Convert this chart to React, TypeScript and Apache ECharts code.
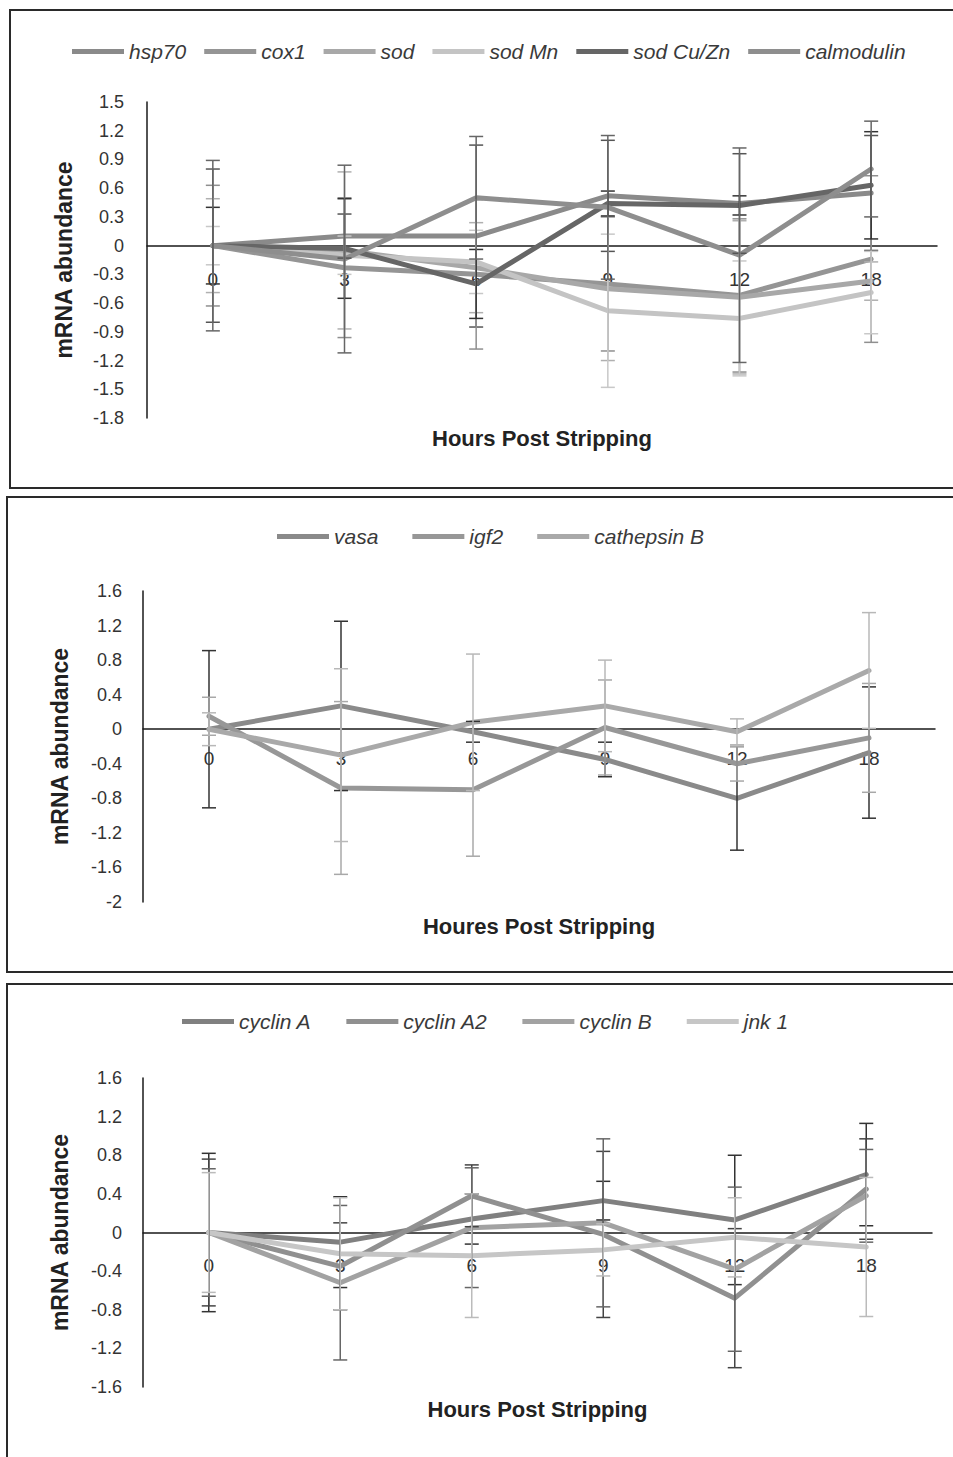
import React, { useEffect, useRef } from "react";
import * as echarts from "echarts";

// ---------- data ----------
const hours = ["0", "3", "6", "9", "12", "18"];

// Panel 1
const p1Names = ["hsp70", "cox1", "sod", "sod Mn", "sod Cu/Zn", "calmodulin"];
const hsp70 = [0, 0.1, 0.1, 0.52, 0.44, 0.55];
const cox1 = [0, -0.23, -0.3, -0.4, -0.52, -0.14];
const sod = [0, -0.05, -0.23, -0.45, -0.54, -0.37];
const sodMn = [0, -0.1, -0.17, -0.68, -0.76, -0.49];
const sodCuZn = [0, -0.03, -0.4, 0.44, 0.42, 0.63];
const calmodulin = [0, -0.14, 0.5, 0.4, -0.1, 0.8];
const hsp70Err = [0.8, 0.23, 0.95, 0.58, 0.52, 0.6];
const cox1Err = [0.63, 0.73, 0.78, 0.7, 0.8, 0.87];
const sodErr = [0.49, 0.82, 0.47, 0.75, 0.8, 0.2];
const sodMnErr = [0.2, 0.2, 0.33, 0.8, 0.6, 0.43];
const sodCuZnErr = [0.4, 0.52, 0.36, 0.13, 0.1, 0.56];
const calmodulinErr = [0.89, 0.98, 0.64, 0.75, 1.12, 0.5];
const p1Ticks = { min: -1.8, max: 1.5, interval: 0.3 };

// Panel 2
const p2Names = ["vasa", "igf2", "cathepsin B"];
const vasa = [0, 0.27, -0.03, -0.35, -0.8, -0.27];
const igf2 = [0.15, -0.68, -0.7, 0.02, -0.4, -0.1];
const cathepsinB = [0, -0.3, 0.08, 0.27, -0.03, 0.68];
const vasaErr = [0.91, 0.98, 0.12, 0.2, 0.6, 0.76];
const igf2Err = [0.22, 1.0, 0.77, 0.55, 0.2, 0.63];
const cathepsinBErr = [0.19, 1.0, 0.79, 0.53, 0.15, 0.67];
const p2Ticks = { min: -2, max: 1.6, interval: 0.4 };

// Panel 3
const p3Names = ["cyclin A", "cyclin A2", "cyclin B", "jnk 1"];
const cyclinA = [0, -0.1, 0.14, 0.33, 0.13, 0.6];
const cyclinA2 = [0, -0.35, 0.38, -0.02, -0.68, 0.45];
const cyclinB = [0, -0.52, 0.05, 0.1, -0.38, 0.38];
const jnk1 = [0, -0.22, -0.24, -0.18, -0.05, -0.15];
const cyclinAErr = [0.82, 0.47, 0.26, 0.2, 0.67, 0.53];
const cyclinA2Err = [0.76, 0.45, 0.32, 0.86, 0.72, 0.52];
const cyclinBErr = [0.66, 0.8, 0.62, 0.87, 0.85, 0.48];
const jnk1Err = [0.62, 0.58, 0.64, 0.27, 0.41, 0.72];
const p3Ticks = { min: -1.6, max: 1.6, interval: 0.4 };

const yTitle = "mRNA abundance";
const xTitles = ["Hours Post Stripping", "Houres Post Stripping", "Hours Post Stripping"];

// ---------- styling / layout ----------
const FONT = "Liberation Sans";

const panels = [
  {
    names: p1Names,
    values: [hsp70, cox1, sod, sodMn, sodCuZn, calmodulin],
    errors: [hsp70Err, cox1Err, sodErr, sodMnErr, sodCuZnErr, calmodulinErr],
    colors: ["#8a8a8a", "#959595", "#a8a8a8", "#c4c4c4", "#666666", "#8e8e8e"],
    errColors: ["#555555", "#8f8f8f", "#b0b0b0", "#c8c8c8", "#333333", "#666666"],
    ticks: p1Ticks,
    grid: { left: 147, top: 102, width: 790, height: 316 },
    box: { x: 10, y: 10, width: 960, height: 478 },
    legend: { left: 67, top: 36, itemGap: 18 },
    xNameGap: 182,
    xLabelMargin: 24,
    yLabelMargin: 23,
  },
  {
    names: p2Names,
    values: [vasa, igf2, cathepsinB],
    errors: [vasaErr, igf2Err, cathepsinBErr],
    colors: ["#8a8a8a", "#979797", "#a9a9a9"],
    errColors: ["#333333", "#a8a8a8", "#b8b8b8"],
    ticks: p2Ticks,
    grid: { left: 143, top: 591, width: 792, height: 311 },
    box: { x: 7, y: 497, width: 960, height: 475 },
    legend: { left: 272, top: 521, itemGap: 34 },
    xNameGap: 186,
    xLabelMargin: 20,
    yLabelMargin: 21,
  },
  {
    names: p3Names,
    values: [cyclinA, cyclinA2, cyclinB, jnk1],
    errors: [cyclinAErr, cyclinA2Err, cyclinBErr, jnk1Err],
    colors: ["#808080", "#909090", "#a2a2a2", "#c6c6c6"],
    errColors: ["#333333", "#444444", "#666666", "#bbbbbb"],
    ticks: p3Ticks,
    grid: { left: 143, top: 1078, width: 789, height: 309 },
    box: { x: 7, y: 984, width: 960, height: 520 },
    legend: { left: 177, top: 1006, itemGap: 35 },
    xNameGap: 166,
    xLabelMargin: 23,
    yLabelMargin: 21,
  },
];

function buildOption() {
  const grid: any[] = [];
  const xAxis: any[] = [];
  const yAxis: any[] = [];
  const legend: any[] = [];
  const series: any[] = [];
  const graphic: any[] = [];

  panels.forEach((p, pi) => {
    grid.push({ ...p.grid, containLabel: false, outerBoundsMode: "none" });
    // pixel distance from the grid bottom up to the zero line, through the value scale
    const zeroUp = (p.grid.height * (0 - p.ticks.min)) / (p.ticks.max - p.ticks.min);
    xAxis.push({
      type: "category",
      gridIndex: pi,
      position: "bottom",
      offset: -zeroUp,
      data: hours,
      boundaryGap: true,
      axisLine: { onZero: false, lineStyle: { color: "#1a1a1a", width: 1.5 } },
      axisTick: { show: false },
      axisLabel: {
        margin: p.xLabelMargin,
        fontSize: 19,
        fontFamily: FONT,
        color: "#333333",
      },
      splitLine: { show: false },
      name: xTitles[pi],
      nameLocation: "middle",
      nameGap: p.xNameGap,
      nameTextStyle: {
        fontSize: 22,
        fontWeight: "bold",
        fontFamily: FONT,
        color: "#222222",
      },
    });
    yAxis.push({
      type: "value",
      gridIndex: pi,
      min: p.ticks.min,
      max: p.ticks.max,
      interval: p.ticks.interval,
      axisLine: { show: true, onZero: false, lineStyle: { color: "#1a1a1a", width: 1.5 } },
      axisTick: { show: false },
      splitLine: { show: false },
      axisLabel: {
        margin: p.yLabelMargin,
        fontSize: 18,
        fontFamily: FONT,
        color: "#333333",
      },
      name: yTitle,
      nameLocation: "middle",
      nameRotate: 90,
      nameGap: 72,
      nameTextStyle: {
        fontSize: 23,
        fontWeight: "bold",
        fontFamily: FONT,
        color: "#222222",
      },
    });
    legend.push({
      data: p.names,
      left: p.legend.left,
      top: p.legend.top,
      itemGap: p.legend.itemGap,
      itemWidth: 52,
      itemHeight: 5,
      icon: "rect",
      textStyle: {
        fontSize: 21,
        fontStyle: "italic",
        fontFamily: FONT,
        color: "#3a3a3a",
      },
      selectedMode: false,
    });
    p.names.forEach((name, si) => {
      series.push({
        type: "line",
        name,
        xAxisIndex: pi,
        yAxisIndex: pi,
        data: p.values[si],
        symbol: "none",
        z: 3,
        lineStyle: { color: p.colors[si], width: 5, join: "round", cap: "round" },
        itemStyle: { color: p.colors[si] },
      });
    });
    p.names.forEach((name, si) => {
      const col = p.errColors[si];
      series.push({
        type: "custom",
        name: name + " error",
        xAxisIndex: pi,
        yAxisIndex: pi,
        z: 4,
        clip: false,
        encode: { x: 0, y: 1 },
        data: p.values[si].map((v, i) => [i, v, p.errors[si][i]]),
        renderItem: (params: any, api: any) => {
          const xi = api.value(0);
          const v = api.value(1);
          const e = api.value(2);
          const top = api.coord([xi, v + e]);
          const bot = api.coord([xi, v - e]);
          const hw = 7;
          const style = { stroke: col, lineWidth: 1.5 };
          return {
            type: "group",
            children: [
              { type: "line", shape: { x1: top[0], y1: top[1], x2: bot[0], y2: bot[1] }, style },
              { type: "line", shape: { x1: top[0] - hw, y1: top[1], x2: top[0] + hw, y2: top[1] }, style },
              { type: "line", shape: { x1: bot[0] - hw, y1: bot[1], x2: bot[0] + hw, y2: bot[1] }, style },
            ],
          };
        },
      });
    });
    graphic.push({
      type: "rect",
      shape: { ...p.box },
      style: { fill: "none", stroke: "#2a2a2a", lineWidth: 2 },
      silent: true,
      z: 0,
    });
  });

  return {
    animation: false,
    backgroundColor: "#ffffff",
    textStyle: { fontFamily: FONT },
    grid,
    xAxis,
    yAxis,
    legend,
    series,
    graphic,
  };
}

export default function App() {
  const ref = useRef<HTMLDivElement>(null);
  useEffect(() => {
    if (!ref.current) return;
    const chart = echarts.init(ref.current, undefined, { renderer: "svg" });
    chart.setOption(buildOption() as any);
    return () => chart.dispose();
  }, []);
  return (
    <div
      ref={ref}
      style={{ position: "absolute", left: 0, top: 0, width: 953, height: 1457, background: "#fff" }}
    />
  );
}
